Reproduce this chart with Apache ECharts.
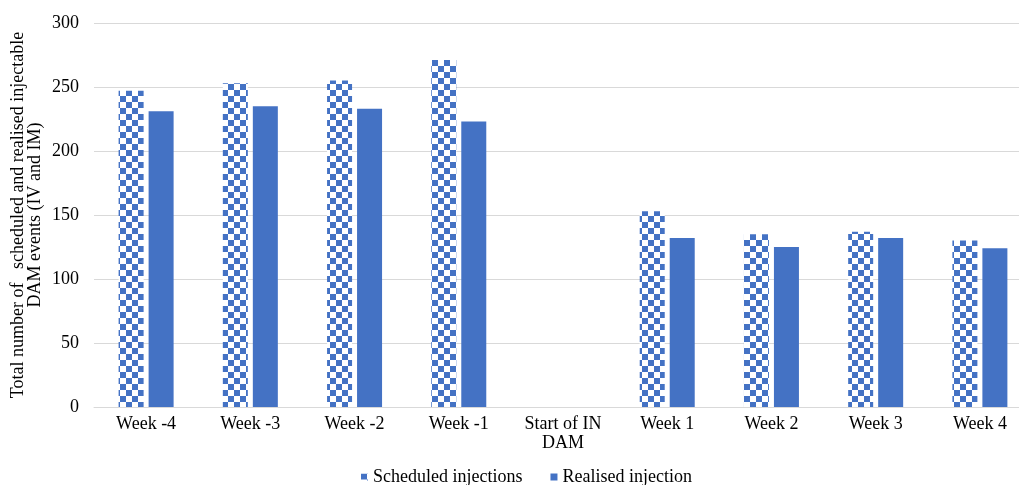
<!DOCTYPE html>
<html><head><meta charset="utf-8">
<script src="https://cdn.jsdelivr.net/npm/echarts@6/dist/echarts.min.js"></script>
<style>html,body{margin:0;padding:0;background:#fff}#c{width:1019px;height:485px}</style>
</head><body><div id="c"></div>
<script>
const categories = ['Week -4','Week -3','Week -2','Week -1','Start of IN\nDAM','Week 1','Week 2','Week 3','Week 4'];
const scheduled = [247, 253, 255, 271, null, 153, 135, 137, 130];
const realised = [231, 235, 233, 223, null, 132, 125, 132, 124];
const yTicks = {min: 0, max: 300, interval: 50};

const blue = '#4472C4';
const cv = document.createElement('canvas');
cv.width = 12; cv.height = 12;
const cx = cv.getContext('2d');
cx.fillStyle = '#fff'; cx.fillRect(0,0,12,12);
cx.fillStyle = blue; cx.fillRect(0,0,6,6); cx.fillRect(6,6,6,6);

const font = 'Liberation Serif';
const chart = echarts.init(document.getElementById('c'));
chart.setOption({
  animation: false,
  grid: {left: 94, right: -13, top: 23, bottom: 78, outerBoundsMode: 'none', containLabel: false},
  legend: {
    top: 463, left: 356, itemWidth: 7, itemHeight: 7, itemGap: 28,
    textStyle: {fontFamily: font, fontSize: 18, color: '#000'},
    data: [{name: 'Scheduled injections', icon: 'rect'}, {name: 'Realised injection', icon: 'rect'}]
  },
  xAxis: {
    type: 'category', data: categories,
    axisTick: {show: false},
    axisLine: {lineStyle: {color: '#d9d9d9', width: 1}},
    axisLabel: {fontFamily: font, fontSize: 18, color: '#000', margin: 8, lineHeight: 19}
  },
  yAxis: {
    type: 'value', min: yTicks.min, max: yTicks.max, interval: yTicks.interval,
    name: 'Total number of   scheduled and realised injectable\nDAM events (IV and IM)',
    nameLocation: 'middle', nameGap: 50, nameRotate: 90, nameMoveOverlap: false,
    nameTextStyle: {fontFamily: font, fontSize: 18, color: '#000', lineHeight: 17},
    axisLine: {show: false}, axisTick: {show: false},
    axisLabel: {fontFamily: font, fontSize: 18, color: '#000', margin: 15},
    splitLine: {lineStyle: {color: '#d9d9d9', width: 1}}
  },
  series: [
    {name: 'Scheduled injections', type: 'bar', data: scheduled, barWidth: 25, barGap: '20%',
     itemStyle: {color: {image: cv, repeat: 'repeat'}}},
    {name: 'Realised injection', type: 'bar', data: realised, barWidth: 25,
     itemStyle: {color: blue}}
  ]
});
</script></body></html>
